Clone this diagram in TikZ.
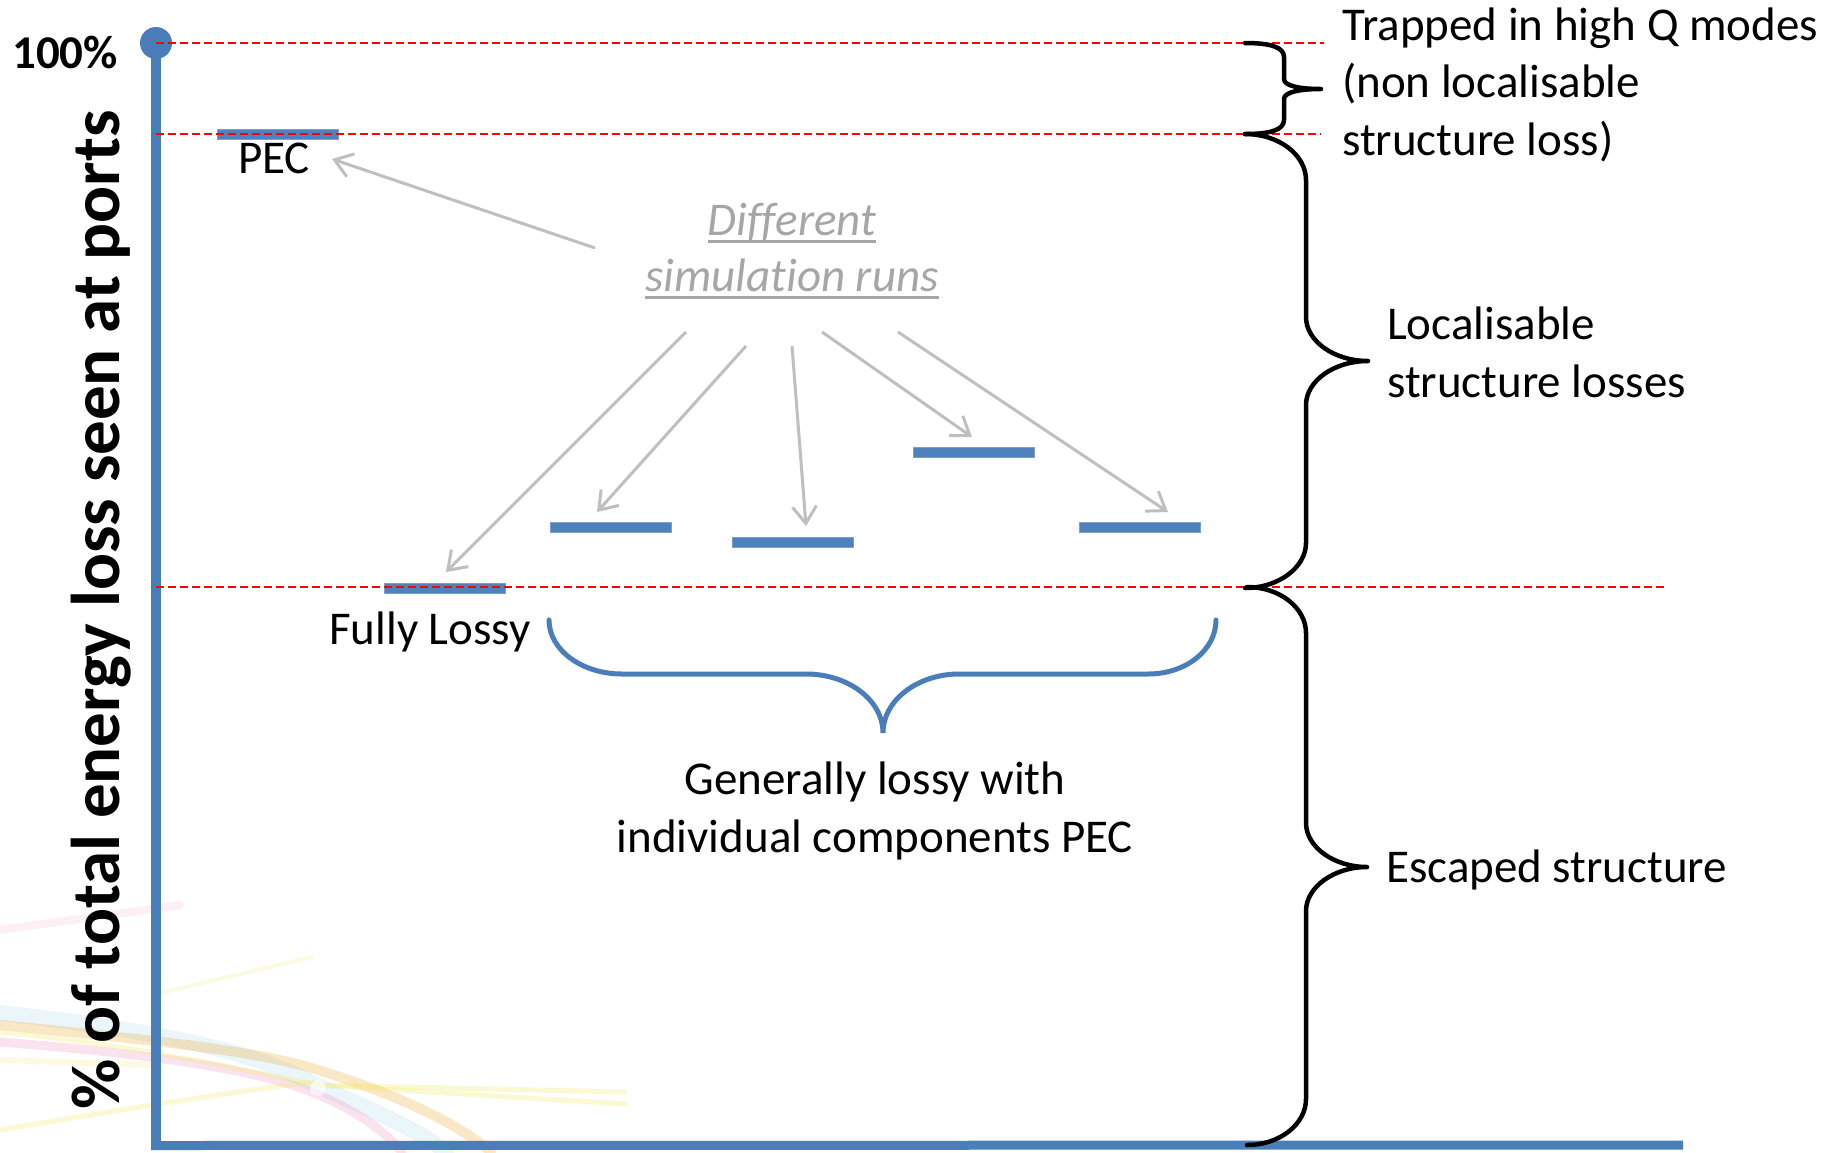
\documentclass[tikz,border=0pt]{standalone}
\usepackage{fontspec}
\setmainfont{Carlito}[RawFeature=-liga]
\usetikzlibrary{arrows.meta}
\definecolor{axisblue}{HTML}{4A7EBB}
\definecolor{barblue}{HTML}{4F81BD}
\definecolor{arrowgray}{HTML}{BFBFBF}
\definecolor{labelgray}{HTML}{A6A6A6}
\definecolor{stkyellow}{HTML}{F2EC6E}
\definecolor{stkorange}{HTML}{F0B040}
\definecolor{stkpink}{HTML}{F0A0C8}
\definecolor{stkblue}{HTML}{9FD4EE}
\newcommand\myul[1]{\setbox0\hbox{#1}\rlap{\color{labelgray}\rule[-7.5pt]{\wd0}{3pt}}\box0}
\begin{document}
\begin{tikzpicture}[x=1pt,y=-1pt,
  txt/.style={font=\fontsize{47}{57.5}\selectfont, inner sep=0pt, text=black},
  bar/.style={fill=barblue, draw=barblue!75!white, line width=1pt, minimum width=121pt, minimum height=10pt, inner sep=0pt},
  refline/.style={draw=red, line width=2pt, dash pattern=on 8pt off 4pt},
  runarrow/.style={draw=arrowgray, line width=3pt, -{Straight Barb[length=17pt,width=24pt]}},
  bracepath/.style={draw=black, line width=4.5pt, line cap=round, line join=round},
  streak/.style={line width=#1, opacity=0.3, line cap=round},
  streak/.default=6pt
]
\useasboundingbox (0,0) rectangle (1845,1152);
\fill[white] (0,0) rectangle (1845,1152);

% decorative light streaks (lower left)
\draw[streak=16pt, stkblue, opacity=0.2] (0,1013) .. controls (152,1030) and (250,1050) .. (312,1083) .. controls (370,1110) and (420,1130) .. (446,1152);
\draw[streak=10pt, stkorange] (0,1025) .. controls (152,1040) and (250,1050) .. (312,1068) .. controls (400,1095) and (460,1125) .. (491,1152);
\draw[streak=9pt, stkpink] (0,1042) .. controls (152,1054) and (230,1067) .. (286,1083) .. controls (340,1100) and (380,1125) .. (402,1152);
\draw[streak=5pt, stkyellow] (0,1032) .. controls (150,1047) and (250,1072) .. (317,1085) -- (625,1092);
\draw[streak=5pt, stkyellow] (317,1085) -- (625,1104);
\draw[streak=5pt, stkyellow] (0,1130) .. controls (120,1110) and (230,1092) .. (312,1082);
\draw[streak=4pt, stkyellow, opacity=0.2] (160,993) -- (312,957);
\draw[streak=6pt, stkyellow, opacity=0.2] (0,1060) -- (150,1065);
\draw[streak=8pt, stkpink, opacity=0.15] (0,930) -- (180,905);
\fill[white, opacity=0.6] (318,1088) circle (8);

% axes
\node[circle, fill=axisblue, minimum size=32pt, inner sep=0pt] (top) at (156,43) {};
\coordinate (corner) at (156,1150);
\coordinate (xend) at (1683,1145);
\draw[axisblue, line width=10pt] (corner) -- (top.center);
\draw[axisblue, line width=9pt] (151,1145.5) -- (xend);

% bars
\node[bar] (pec) at (277.5,134) {};
\node[bar] (fl) at (444.5,588) {};
\node[bar] (b2) at (611,527.5) {};
\node[bar] (b3) at (792.5,542.5) {};
\node[bar] (b4) at (973.5,452) {};
\node[bar] (b5) at (1139.5,527.5) {};

% reference lines
\coordinate (r1e) at (1324,43);
\coordinate (r2s) at (156,134);
\coordinate (r2e) at (1321,134);
\coordinate (r3s) at (156,587);
\coordinate (r3e) at (1667,587);
\draw[refline] (top.center) -- (r1e);
\draw[refline] (r2s) -- (r2e);
\draw[refline] (r3s) -- (r3e);

% texts (anchor base = baseline of last line)
\node[txt, font=\fontsize{47}{57.5}\selectfont\bfseries, anchor=base west] (hundred) at (12,68) {100\%};
\node[txt, font=\fontsize{69}{80}\selectfont\bfseries, rotate=90, anchor=base] (ylab) at (119,610) {\% of total energy loss seen at ports};
\node[txt, anchor=base] (peclab) at (274,173) {PEC};
\node[txt, anchor=base] (fllab) at (430,644) {Fully Lossy};
\node[txt, text=labelgray, font=\fontsize{47}{56}\selectfont\itshape, align=center, anchor=base] (runs) at (792,291) {\myul{Different}\\\myul{simulation runs}};
\node[txt, align=left, anchor=base west] (trap) at (1342,155) {Trapped in high Q modes\\(non localisable\\structure loss)};
\node[txt, align=left, anchor=base west] (loc) at (1387,397) {Localisable\\structure losses};
\node[txt, anchor=base west] (esc) at (1386,882) {Escaped structure};
\node[txt, align=center, anchor=base] (gen) at (875,852) {Generally lossy with\\individual components PEC};

% arrows from "Different simulation runs"
\coordinate (a0s) at (595,248);
\coordinate (a1s) at (686,332);
\coordinate (a2s) at (746,346);
\coordinate (a3s) at (792,346);
\coordinate (a4s) at (822,332);
\coordinate (a5s) at (898,332);
\coordinate (a0e) at (332,159);
\coordinate (a1e) at (446,572);
\coordinate (a2e) at (597,512);
\coordinate (a3e) at (806,526);
\coordinate (a4e) at (972,437);
\coordinate (a5e) at (1168,512);
\draw[runarrow] (a0s) -- (a0e);
\draw[runarrow] (a1s) -- (a1e);
\draw[runarrow] (a2s) -- (a2e);
\draw[runarrow] (a3s) -- (a3e);
\draw[runarrow] (a4s) -- (a4e);
\draw[runarrow] (a5s) -- (a5e);

% braces
\draw[bracepath] (1245,43) .. controls (1270,43) and (1284,47) .. (1284,57) -- (1284,79) .. controls (1284,86) and (1300,89) .. (1321,89) .. controls (1300,89) and (1284,92) .. (1284,99) -- (1284,120) .. controls (1284,130) and (1270,134) .. (1245,134);
\draw[bracepath] (1245,134) .. controls (1279,134) and (1306,155) .. (1306,180) -- (1306,317) .. controls (1306,341) and (1334,361) .. (1368,361) .. controls (1334,361) and (1306,381) .. (1306,405) -- (1306,543) .. controls (1306,567) and (1279,588) .. (1245,588);
\draw[bracepath] (1247,587) .. controls (1280,587) and (1306,608) .. (1306,633) -- (1306,823) .. controls (1306,847) and (1334,867) .. (1367,867) .. controls (1334,867) and (1306,887) .. (1306,911) -- (1306,1099) .. controls (1306,1124) and (1280,1145) .. (1247,1145);
\draw[axisblue, line width=5pt, line cap=round] (549,620) .. controls (549,650) and (582,674) .. (622,674) -- (806,674) .. controls (848,674) and (883,700) .. (883,733) .. controls (883,700) and (918,674) .. (959,674) -- (1148,674) .. controls (1186,674) and (1216,650) .. (1216,620);
\end{tikzpicture}
\end{document}
